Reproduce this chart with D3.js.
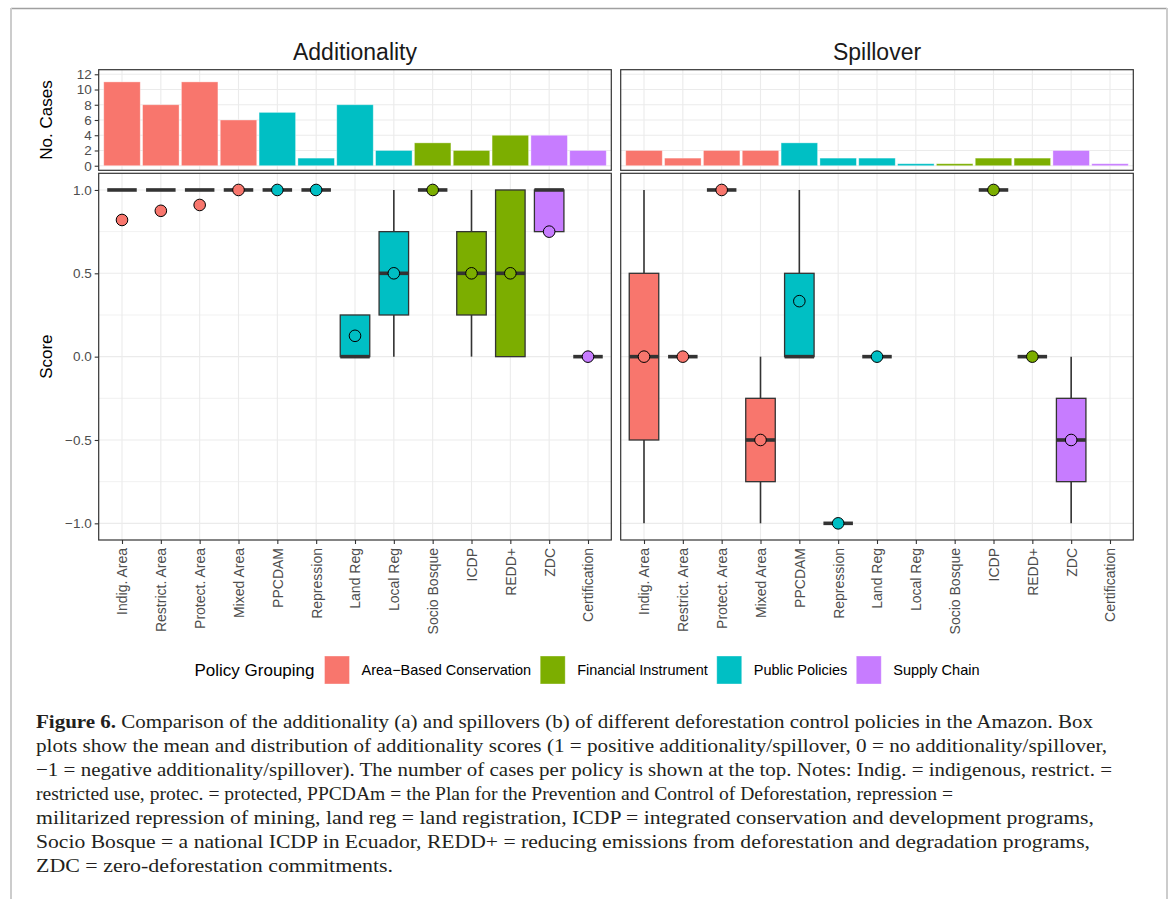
<!DOCTYPE html>
<html>
<head>
    <meta charset="utf-8" />
    <title>Figure 6</title>
    <style>
        body { margin: 0; background: #fff; }
        svg { display: block; }
    </style>
</head>
<body>
<script src="https://d3js.org/d3.v7.min.js"></script>
<script>
    // categories and groups
    var categories = ["Indig. Area", "Restrict. Area", "Protect. Area", "Mixed Area", "PPCDAM", "Repression",
                      "Land Reg", "Local Reg", "Socio Bosque", "ICDP", "REDD+", "ZDC", "Certification"];
    var groupOf = ["Area", "Area", "Area", "Area", "Public", "Public", "Public", "Public",
                   "Financial", "Financial", "Financial", "Supply", "Supply"];
    var legendKeys = ["Area", "Financial", "Public", "Supply"];
    var legendLabels = ["Area\u2212Based Conservation", "Financial Instrument", "Public Policies", "Supply Chain"];
    var groupColors = ["#F8766D", "#7CAE00", "#00BFC4", "#C77CFF"];

    // number of cases
    var addCounts   = [11, 8, 11, 6, 7, 1, 8, 2, 3, 2, 4, 4, 2];
    var spillCounts = [2, 1, 2, 2, 3, 1, 1, 0, 0, 1, 1, 2, 0];

    // additionality box stats
    var addLo   = [1, 1, 1, 1, 1, 1, 0,    0,    1, 0,    0,   0.75, 0];
    var addQ1   = [1, 1, 1, 1, 1, 1, 0,    0.25, 1, 0.25, 0,   0.75, 0];
    var addMed  = [1, 1, 1, 1, 1, 1, 0,    0.5,  1, 0.5,  0.5, 1,    0];
    var addQ3   = [1, 1, 1, 1, 1, 1, 0.25, 0.75, 1, 0.75, 1,   1,    0];
    var addHi   = [1, 1, 1, 1, 1, 1, 0.25, 1,    1, 1,    1,   1,    0];
    var addMean = [0.82, 0.875, 0.91, 1, 1, 1, 0.125, 0.5, 1, 0.5, 0.5, 0.75, 0];

    // spillover box stats
    var spillLo   = [-1,   0, 1, -1,    0,     -1, 0, null, null, 1, 0, -1,    null];
    var spillQ1   = [-0.5, 0, 1, -0.75, 0,     -1, 0, null, null, 1, 0, -0.75, null];
    var spillMed  = [0,    0, 1, -0.5,  0,     -1, 0, null, null, 1, 0, -0.5,  null];
    var spillQ3   = [0.5,  0, 1, -0.25, 0.5,   -1, 0, null, null, 1, 0, -0.25, null];
    var spillHi   = [1,    0, 1, 0,     1,     -1, 0, null, null, 1, 0, 0,     null];
    var spillMean = [0,    0, 1, -0.5,  0.333, -1, 0, null, null, 1, 0, -0.5,  null];

    var countTicks = [0, 2, 4, 6, 8, 10, 12];
    var scoreTicks = [-1, -0.5, 0, 0.5, 1];
    var scoreMinor = [-0.75, -0.25, 0.25, 0.75];

    var captionLines = [
        ["Figure 6.", " Comparison of the additionality (a) and spillovers (b) of different deforestation control policies in the Amazon. Box"],
        ["", "plots show the mean and distribution of additionality scores (1 = positive additionality/spillover, 0 = no additionality/spillover,"],
        ["", "\u22121 = negative additionality/spillover). The number of cases per policy is shown at the top. Notes: Indig. = indigenous, restrict. ="],
        ["", "restricted use, protec. = protected, PPCDAm = the Plan for the Prevention and Control of Deforestation, repression ="],
        ["", "militarized repression of mining, land reg = land registration, ICDP = integrated conservation and development programs,"],
        ["", "Socio Bosque = a national ICDP in Ecuador, REDD+ = reducing emissions from deforestation and degradation programs,"],
        ["", "ZDC = zero-deforestation commitments."]
    ];
    // right end of each caption line, as set in the figure
    var captionEnds = [1093, 1107, 1112, 953, 1094, 1090, 393];

    var width = 1173, height = 899;
    var sans = "'Liberation Sans', Arial, Helvetica, sans-serif";
    var gridColor = "#ebebeb", lineColor = "#333333", tickText = "#4d4d4d";

    var colorOf = d3.scaleOrdinal().domain(legendKeys).range(groupColors);

    var svg = d3.select("body").append("svg")
                .attr("width", width)
                .attr("height", height);

    // outer frame
    svg.append("line").attr("x1", 11).attr("x2", 1167).attr("y1", 8.5).attr("y2", 8.5)
       .attr("stroke", "#a0a0a0").attr("stroke-width", 1.5);
    svg.append("line").attr("x1", 11).attr("x2", 11).attr("y1", 8).attr("y2", height)
       .attr("stroke", "#cccccc").attr("stroke-width", 2);
    svg.append("line").attr("x1", 1167).attr("x2", 1167).attr("y1", 8).attr("y2", height)
       .attr("stroke", "#cccccc").attr("stroke-width", 2);

    var panelW = 512.6;
    var barTop = 69.7, barBottom = 170.3;
    var boxTop = 173.3, boxBottom = 540;

    var yBar = d3.scaleLinear().domain([-0.6, 12.6]).range([barBottom, barTop]);
    var yBox = d3.scaleLinear().domain([-1.1, 1.1]).range([boxBottom, boxTop]);

    var panels = [
        {title: "Additionality", x0: 98.7, counts: addCounts, lo: addLo, q1: addQ1, med: addMed, q3: addQ3, hi: addHi, mean: addMean, axis: true},
        {title: "Spillover", x0: 620.7, counts: spillCounts, lo: spillLo, q1: spillQ1, med: spillMed, q3: spillQ3, hi: spillHi, mean: spillMean, axis: false}
    ];

    panels.forEach(function(p) {
        var x = d3.scalePoint().domain(categories).range([p.x0, p.x0 + panelW]).padding(0.6);
        var step = x.step();
        var g = svg.append("g");

        // title
        g.append("text")
         .attr("x", p.x0 + panelW / 2).attr("y", 60)
         .attr("text-anchor", "middle")
         .style("font-family", sans).style("font-size", "23px").attr("fill", "#1a1a1a")
         .text(p.title);

        // ---- bar panel ----
        var bg = g.append("g");
        bg.selectAll(".vg").data(categories).enter().append("line")
          .attr("x1", d => x(d)).attr("x2", d => x(d))
          .attr("y1", barTop).attr("y2", barBottom)
          .attr("stroke", gridColor).attr("stroke-width", 1.1);
        bg.selectAll(".hg").data(countTicks).enter().append("line")
          .attr("x1", p.x0).attr("x2", p.x0 + panelW)
          .attr("y1", d => yBar(d)).attr("y2", d => yBar(d))
          .attr("stroke", gridColor).attr("stroke-width", 1.1);

        bg.selectAll(".bar").data(categories).enter().append("rect")
          .attr("x", d => x(d) - step * 0.47)
          .attr("width", step * 0.94)
          .attr("y", (d, i) => Math.min(yBar(p.counts[i]), yBar(0) - 2))
          .attr("height", (d, i) => Math.max(2, yBar(0) - yBar(p.counts[i])))
          .attr("fill", (d, i) => colorOf(groupOf[i]))
          .attr("stroke", "#ffffff").attr("stroke-opacity", 0.45).attr("stroke-width", 0.8);

        bg.append("rect")
          .attr("x", p.x0).attr("y", barTop).attr("width", panelW).attr("height", barBottom - barTop)
          .attr("fill", "none").attr("stroke", lineColor).attr("stroke-width", 1.2);

        // ---- box panel ----
        var xg = g.append("g");
        xg.selectAll(".vg").data(categories).enter().append("line")
          .attr("x1", d => x(d)).attr("x2", d => x(d))
          .attr("y1", boxTop).attr("y2", boxBottom)
          .attr("stroke", gridColor).attr("stroke-width", 1.1);
        xg.selectAll(".mg").data(scoreMinor).enter().append("line")
          .attr("x1", p.x0).attr("x2", p.x0 + panelW)
          .attr("y1", d => yBox(d)).attr("y2", d => yBox(d))
          .attr("stroke", gridColor).attr("stroke-width", 0.7);
        xg.selectAll(".hg").data(scoreTicks).enter().append("line")
          .attr("x1", p.x0).attr("x2", p.x0 + panelW)
          .attr("y1", d => yBox(d)).attr("y2", d => yBox(d))
          .attr("stroke", gridColor).attr("stroke-width", 1.1);

        var bw = step * 0.76;
        var idx = categories.map((d, i) => i).filter(i => p.med[i] !== null);

        // whiskers
        xg.selectAll(".wu").data(idx).enter().append("line")
          .attr("x1", i => x(categories[i])).attr("x2", i => x(categories[i]))
          .attr("y1", i => yBox(p.q3[i])).attr("y2", i => yBox(p.hi[i]))
          .attr("stroke", lineColor).attr("stroke-width", 1.6);
        xg.selectAll(".wl").data(idx).enter().append("line")
          .attr("x1", i => x(categories[i])).attr("x2", i => x(categories[i]))
          .attr("y1", i => yBox(p.q1[i])).attr("y2", i => yBox(p.lo[i]))
          .attr("stroke", lineColor).attr("stroke-width", 1.6);

        // boxes
        xg.selectAll(".box").data(idx).enter().append("rect")
          .attr("x", i => x(categories[i]) - bw / 2)
          .attr("width", bw)
          .attr("y", i => yBox(p.q3[i]))
          .attr("height", i => yBox(p.q1[i]) - yBox(p.q3[i]))
          .attr("fill", i => colorOf(groupOf[i]))
          .attr("stroke", lineColor).attr("stroke-width", 1.3);

        // medians
        xg.selectAll(".med").data(idx).enter().append("line")
          .attr("x1", i => x(categories[i]) - bw / 2).attr("x2", i => x(categories[i]) + bw / 2)
          .attr("y1", i => yBox(p.med[i])).attr("y2", i => yBox(p.med[i]))
          .attr("stroke", lineColor).attr("stroke-width", 3.6);

        // means
        xg.selectAll(".mean").data(idx).enter().append("circle")
          .attr("cx", i => x(categories[i]))
          .attr("cy", i => yBox(p.mean[i]))
          .attr("r", 5.8)
          .attr("fill", i => colorOf(groupOf[i]))
          .attr("stroke", "#000").attr("stroke-width", 1);

        xg.append("rect")
          .attr("x", p.x0).attr("y", boxTop).attr("width", panelW).attr("height", boxBottom - boxTop)
          .attr("fill", "none").attr("stroke", lineColor).attr("stroke-width", 1.2);

        // x axis
        var xAxis = d3.axisBottom(x).tickSize(4).tickPadding(4);
        var ax = svg.append("g").attr("transform", "translate(0," + boxBottom + ")").call(xAxis);
        ax.select(".domain").remove();
        ax.selectAll(".tick line").attr("stroke", lineColor).attr("stroke-width", 1.1);
        ax.selectAll(".tick text")
          .attr("transform", "rotate(-90)")
          .attr("x", -8).attr("y", 0).attr("dy", "0.35em")
          .attr("text-anchor", "end")
          .style("font-family", sans).style("font-size", "14px").attr("fill", tickText);

        if (p.axis) {
            var yA1 = svg.append("g").attr("transform", "translate(" + p.x0 + ",0)")
                         .call(d3.axisLeft(yBar).tickValues(countTicks).tickSize(4).tickPadding(3));
            var yA2 = svg.append("g").attr("transform", "translate(" + p.x0 + ",0)")
                         .call(d3.axisLeft(yBox).tickValues(scoreTicks).tickSize(4).tickPadding(3)
                                 .tickFormat(d => d3.format(".1f")(d).replace("-", "\u2212")));
            [yA1, yA2].forEach(function(a) {
                a.select(".domain").remove();
                a.selectAll(".tick line").attr("stroke", lineColor).attr("stroke-width", 1.1);
                a.selectAll(".tick text")
                 .style("font-family", sans).style("font-size", "13.5px").attr("fill", tickText);
            });
            svg.append("text")
               .attr("transform", "translate(52," + (barTop + barBottom) / 2 + ") rotate(-90)")
               .attr("text-anchor", "middle")
               .style("font-family", sans).style("font-size", "17px").attr("fill", "#000")
               .text("No. Cases");
            svg.append("text")
               .attr("transform", "translate(52," + (boxTop + boxBottom) / 2 + ") rotate(-90)")
               .attr("text-anchor", "middle")
               .style("font-family", sans).style("font-size", "17px").attr("fill", "#000")
               .text("Score");
        }
    });

    // legend
    var leg = svg.append("g");
    var legTitle = leg.append("text")
        .attr("x", 0).attr("y", 676)
        .style("font-family", sans).style("font-size", "17px").attr("fill", "#000")
        .text("Policy Grouping");
    var cx = legTitle.node().getComputedTextLength() + 10;
    legendKeys.forEach(function(k, i) {
        leg.append("rect")
           .attr("x", cx).attr("y", 656).attr("width", 25).attr("height", 28)
           .attr("fill", colorOf(k))
           .attr("stroke", "#ffffff").attr("stroke-opacity", 0.45).attr("stroke-width", 0.8);
        cx += 25 + 12;
        var t = leg.append("text")
           .attr("x", cx).attr("y", 675)
           .style("font-family", sans).style("font-size", "14.5px").attr("fill", "#000")
           .text(legendLabels[i]);
        cx += t.node().getComputedTextLength() + 9;
    });
    var legW = cx - 9;
    leg.attr("transform", "translate(" + (587 - legW / 2) + ",0)");

    // caption
    var cap = svg.append("g");
    captionLines.forEach(function(line, i) {
        var t = cap.append("text")
            .attr("x", 36).attr("y", 728 + i * 24)
            .attr("textLength", captionEnds[i] - 36)
            .attr("lengthAdjust", "spacingAndGlyphs")
            .style("font-family", "'Liberation Serif', 'Times New Roman', serif")
            .style("font-size", "19.5px").attr("fill", "#231f20");
        if (line[0]) t.append("tspan").attr("font-weight", "bold").text(line[0]);
        t.append("tspan").text(line[1]);
    });
</script>
</body>
</html>
